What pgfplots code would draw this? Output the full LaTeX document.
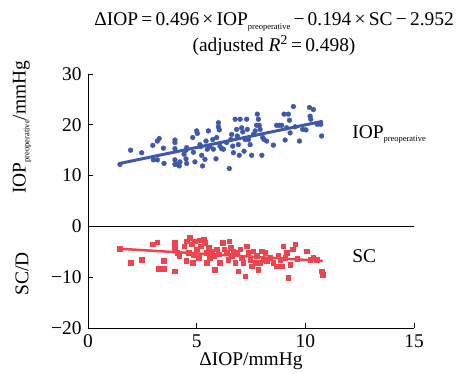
\documentclass[border=0pt]{standalone}
\usepackage{fontspec}
\setmainfont{Liberation Serif}
\usepackage{pgfplots}
\pgfplotsset{compat=1.18}
\definecolor{cblue}{RGB}{64,88,170}
\definecolor{cred}{RGB}{238,68,78}
\newcommand\sub[1]{\raisebox{-0.4ex}{\fontsize{8.5}{8.5}\selectfont #1}}
\begin{document}
\begin{tikzpicture}
\begin{axis}[
  scale only axis, width=326bp, height=254bp,
  xmin=0, xmax=15, ymin=-20, ymax=30,
  axis lines=left, axis line style={-, line width=0.8pt},
  tick align=inside, major tick length=5bp,
  tick style={black, line width=0.8pt},
  xtick={0,5,10,15}, ytick={-20,-10,0,10,20,30},
  xticklabels={0,5,10,15},
  yticklabels={−20,−10,0,10,20,30},
  xticklabel style={font=\fontsize{19.5}{19.5}\selectfont, yshift=-3bp},
  yticklabel style={font=\fontsize{19.5}{19.5}\selectfont, xshift=-3bp},
  clip=false,
  xlabel={ΔIOP/mmHg},
  xlabel style={font=\fontsize{19.5}{19.5}\selectfont, yshift=2bp},
]
\draw[line width=0.8pt] (axis cs:0,0) -- (axis cs:15,0);
\addplot[only marks, mark=*, mark size=2.4bp, color=cblue] coordinates {
(1.47,12.2)(1.96,15.0)(2.47,14.5)(2.98,15.95)(3.19,16.8)(3.28,17.3)(3.47,15.4)(3.01,13.1)(3.19,13.1)(3.50,12.4)
(4.00,17.0)(4.00,16.5)(4.00,15.3)(4.00,13.1)(4.00,12.2)(4.13,12.2)(4.20,11.9)(4.23,12.7)(4.42,14.2)(4.51,15.0)
(4.54,15.5)(4.51,13.3)(4.54,12.4)(4.82,17.5)(4.85,14.6)(4.92,12.7)(5.00,18.8)(5.03,18.3)(5.15,16.1)(5.18,15.7)
(5.23,14.0)(5.27,11.9)(5.38,13.2)(5.43,16.8)(5.49,15.2)(5.54,18.8)(5.61,15.7)(5.74,17.1)(5.77,15.2)(5.89,13.3)
(5.92,17.5)(6.00,20.4)(6.00,19.6)(6.04,19.0)(6.07,15.8)(6.15,15.3)(6.23,15.2)(6.38,16.5)(6.50,11.4)(6.57,17.1)
(6.61,18.1)(6.66,15.8)(6.69,14.5)(6.77,21.1)(6.84,19.1)(6.87,17.8)(6.92,16.1)(6.96,14.0)(7.00,21.1)(7.07,19.4)
(7.12,18.6)(7.18,14.8)(7.23,17.1)(7.30,21.1)(7.33,19.1)(7.38,17.1)(7.46,16.1)(7.53,14.0)(7.61,18.1)(7.69,18.8)
(7.76,19.9)(7.79,22.1)(7.84,21.1)(7.88,19.9)(7.92,19.1)(8.00,14.0)(8.04,17.5)(8.10,17.1)(8.22,16.8)(8.53,16.0)
(8.68,19.9)(8.81,19.9)(8.91,19.9)(9.02,22.1)(9.07,17.0)(9.14,19.4)(9.22,22.1)(9.27,20.9)(9.30,18.4)(9.45,23.6)
(9.53,19.6)(9.73,16.8)(9.88,19.1)(10.03,19.0)(10.19,23.4)(10.22,21.7)(10.25,21.1)(10.37,23.0)(10.55,20.1)(10.71,20.1)
(10.75,17.8)
};
\addplot[color=cblue, line width=3bp] coordinates {(1.47,12.4)(10.8,20.7)};
\addplot[only marks, mark=square*, mark size=2.3bp, color=cred] coordinates {
(1.47,-4.4)(1.96,-7.15)(2.47,-6.5)(2.98,-3.5)(3.19,-3.1)(3.24,-8.3)(3.47,-6.8)(3.50,-8.3)(4.00,-3.2)(4.00,-4.2)
(4.00,-8.8)(4.11,-5.2)(4.20,-5.8)(4.42,-3.9)(4.51,-6.8)(4.54,-2.9)(4.62,-5.2)(4.69,-2.2)(4.77,-3.5)(4.82,-7.2)
(4.85,-5.7)(4.92,-2.9)(5.00,-4.5)(5.08,-6.2)(5.15,-2.7)(5.18,-3.9)(5.31,-2.6)(5.38,-3.2)(5.43,-5.2)(5.46,-7.2)
(5.54,-4.2)(5.61,-6.2)(5.69,-4.9)(5.77,-5.8)(5.84,-8.5)(5.92,-4.5)(6.00,-5.5)(6.07,-7.2)(6.20,-3.2)(6.26,-4.5)
(6.38,-5.2)(6.46,-6.5)(6.50,-2.9)(6.57,-4.2)(6.61,-5.8)(6.69,-4.9)(6.77,-7.2)(6.84,-5.2)(6.92,-8.8)(7.00,-4.5)
(7.07,-6.2)(7.15,-7.2)(7.23,-9.8)(7.30,-3.9)(7.38,-5.2)(7.46,-6.5)(7.53,-7.8)(7.61,-4.9)(7.69,-7.2)(7.76,-5.8)
(7.84,-8.5)(7.92,-7.2)(8.00,-4.9)(8.07,-6.5)(8.15,-5.2)(8.22,-6.8)(8.38,-6.2)(8.53,-7.2)(8.68,-7.8)(8.76,-5.8)
(8.84,-6.5)(8.91,-7.8)(8.99,-3.9)(9.07,-6.2)(9.14,-5.2)(9.22,-10.1)(9.30,-7.5)(9.42,-4.5)(9.53,-3.5)(9.63,-6.4)
(10.06,-4.9)(10.22,-6.5)(10.37,-6.2)(10.52,-6.5)(10.75,-8.8)(10.80,-9.5)
};
\addplot[color=cred, line width=2.5bp] coordinates {(1.44,-4.4)(10.8,-6.8)};
\node[font=\fontsize{19.5}{19.5}\selectfont, anchor=west] at (axis cs:12.0,18.1) {IOP\sub{preoperative}};
\node[font=\fontsize{19.5}{19.5}\selectfont, anchor=west] at (axis cs:12.0,-5.9) {SC};
\node[font=\fontsize{19.5}{19.5}\selectfont, rotate=90] at ([xshift=-66bp]axis cs:0,19.5) {IOP\sub{preoperative}/mmHg};
\node[font=\fontsize{19.5}{19.5}\selectfont, rotate=90] at ([xshift=-66bp]axis cs:0,-9.4) {SC/D};
\node[font=\fontsize{19.5}{26}\selectfont, align=center] at (axis cs:8.56,37.8)
  {ΔIOP\,=\,0.496\,×\,IOP\sub{preoperative}\,−\,0.194\,×\,SC\,−\,2.952\\(adjusted \textit{R}\textsuperscript{2}\,=\,0.498)};
\coordinate (ll) at (axis cs:0,-20);
\end{axis}
\pgfresetboundingbox
\path[use as bounding box] (ll) ++(-88bp,-46bp) rectangle ++(461bp,374bp);
\end{tikzpicture}
\end{document}
